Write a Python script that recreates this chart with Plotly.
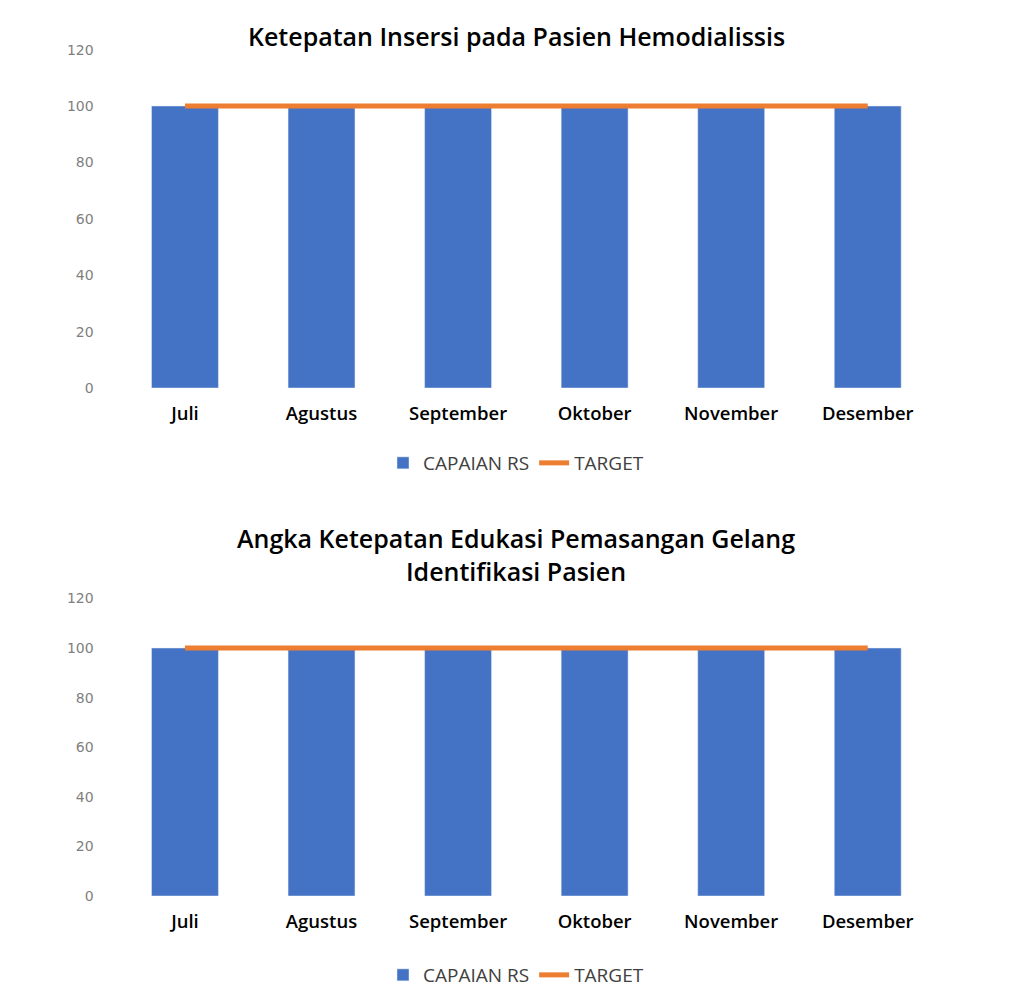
import plotly.graph_objects as go

months = ['Juli', 'Agustus', 'September', 'Oktober', 'November', 'Desember']
capaian_insersi = [100, 100, 100, 100, 100, 100]
target_insersi = [100, 100, 100, 100, 100, 100]
capaian_gelang = [100, 100, 100, 100, 100, 100]
target_gelang = [100, 100, 100, 100, 100, 100]

title1 = 'Ketepatan Insersi pada Pasien Hemodialissis'
title2 = 'Angka Ketepatan Edukasi Pemasangan Gelang<br>Identifikasi Pasien'

BLUE = '#4472C4'
ORANGE = '#ED7D31'
FONT = 'Open Sans'

# page adds an 8px body margin, so the figure is a bit smaller than the window
W, H = 1016, 994


def py(px):
    # reference pixel row -> paper y
    return 1 - (px - 8) / H


def px_(px):
    return (px - 8) / W


fig = go.Figure()

charts = [
    (capaian_insersi, target_insersi, 'x', 'y', 'legend'),
    (capaian_gelang, target_gelang, 'x2', 'y2', 'legend2'),
]
for capaian, target, xa, ya, lg in charts:
    fig.add_trace(go.Bar(x=months, y=capaian, name='CAPAIAN RS', marker_color=BLUE,
                         xaxis=xa, yaxis=ya, legend=lg))
    fig.add_trace(go.Scatter(x=months, y=target, name='TARGET', mode='lines',
                             line={'color': ORANGE, 'width': 5},
                             xaxis=xa, yaxis=ya, legend=lg))

xdom = [px_(116.7), px_(936)]
xstyle = dict(domain=xdom, showgrid=False, showline=False, ticks='', automargin=False,
              tickfont={'family': FONT, 'size': 18.5, 'color': 'black', 'weight': 600},
              ticklabelstandoff=12)
ystyle = dict(range=[0, 120], dtick=20, showgrid=False, zeroline=False, showline=False,
              automargin=False,
              tickfont={'family': 'DejaVu Sans', 'size': 14, 'color': '#7f7f7f'},
              ticklabelstandoff=22)

legstyle = dict(orientation='h', x=0.5, xanchor='center', yanchor='middle',
                font={'family': FONT, 'size': 19, 'color': '#404040'},
                bgcolor='rgba(0,0,0,0)', traceorder='normal')

fig.update_layout(
    width=W, height=H,
    margin={'l': 0, 'r': 0, 't': 0, 'b': 0, 'autoexpand': False},
    paper_bgcolor='white', plot_bgcolor='white',
    bargap=0.51,
    xaxis=dict(xstyle, anchor='y'),
    yaxis=dict(ystyle, domain=[py(388), py(49.6)], anchor='x'),
    xaxis2=dict(xstyle, anchor='y2'),
    yaxis2=dict(ystyle, domain=[py(896), py(598.4)], anchor='x2'),
    legend=dict(legstyle, y=py(463)),
    legend2=dict(legstyle, y=py(975)),
    annotations=[
        dict(text=title1, x=0.5, y=py(36), xref='paper', yref='paper',
             showarrow=False, yanchor='middle',
             font={'family': FONT, 'size': 25, 'color': 'black', 'weight': 600}),
        dict(text=title2, x=0.5, y=py(554), xref='paper', yref='paper',
             showarrow=False, yanchor='middle',
             font={'family': FONT, 'size': 25, 'color': 'black', 'weight': 600}),
    ],
)

fig.write_html('out.html')
